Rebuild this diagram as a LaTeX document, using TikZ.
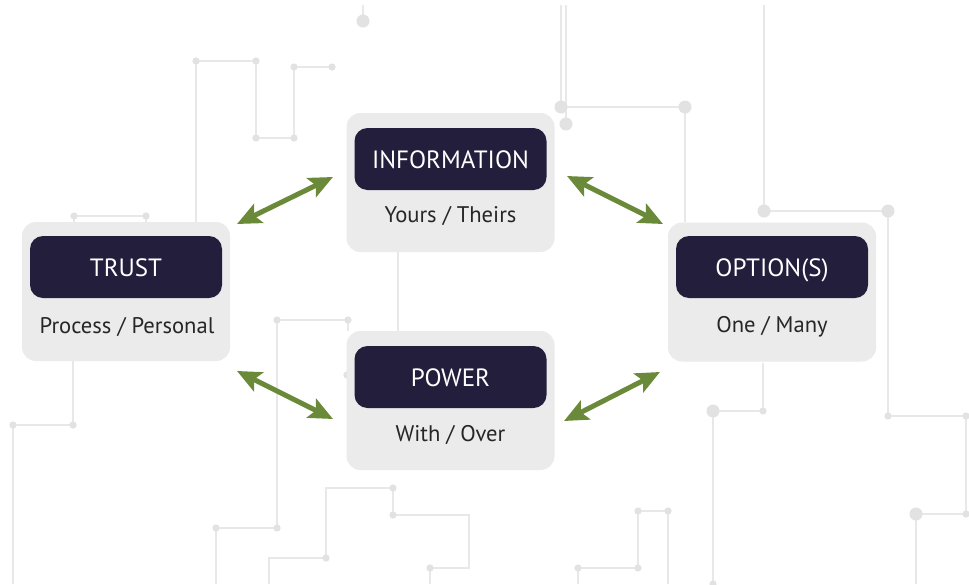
\documentclass[tikz,border=0pt]{standalone}
\usepackage{fontspec}
\setmainfont{PT Sans}
\usetikzlibrary{arrows.meta}
\definecolor{panel}{HTML}{EBEBEC}
\definecolor{labelfill}{HTML}{231E3B}
\definecolor{trace}{HTML}{E8E8E8}
\definecolor{pad}{HTML}{E2E2E2}
\definecolor{linkgreen}{HTML}{6A8A3A}
\definecolor{caption}{HTML}{262626}

\begin{document}
\begin{tikzpicture}[x=1pt,y=-1pt,
  panelbox/.style={fill=panel, rounded corners=14pt, minimum width=208pt,
    minimum height=139pt, inner sep=0pt, outer sep=0pt},
  titlebox/.style={fill=labelfill, rounded corners=13pt, minimum width=192pt,
    minimum height=62pt, inner sep=0pt, text=white, text height=18pt, text depth=0pt,
    font=\fontsize{25}{30}\selectfont},
  subtitle/.style={text=caption, font=\fontsize{22.6}{27}\selectfont, inner sep=0pt, anchor=base},
  wire/.style={draw=trace, line width=1.3pt},
  via/.style={fill=pad},
  twoway/.style={draw=linkgreen, line width=5pt,
    {Stealth[length=24pt,width=21pt,inset=5pt]}-{Stealth[length=24pt,width=21pt,inset=5pt]}}
]
\useasboundingbox[fill=white] (0,0) rectangle (969,584);

% circuit traces in the background
\draw[wire] (363,5) -- (363,21);
\draw[wire] (196,222) -- (196,61) -- (256,61) -- (256,138) -- (294,138) -- (294,67) -- (332,67);
\draw[wire] (74,222) -- (74,216) -- (146,216) -- (146,222);
\draw[wire] (398,252) -- (398,331);
\draw[wire] (561,5) -- (561,107) -- (685,107) -- (685,222);
\draw[wire] (566,5) -- (566,124);
\draw[wire] (764,5) -- (764,211) -- (888,211) -- (888,416) -- (966,416) -- (966,514) -- (916,514) -- (916,584);
\draw[wire] (73,361) -- (73,425) -- (13,425) -- (13,584);
\draw[wire] (348,331) -- (348,320) -- (277,320) -- (277,528) -- (216,528) -- (216,584);
\draw[wire] (393,488) -- (326,488) -- (326,558) -- (269,558) -- (269,584);
\draw[wire] (393,488) -- (393,515) -- (469,515) -- (469,568) -- (430,568) -- (430,584);
\draw[wire] (763,363) -- (763,411) -- (713,411) -- (713,584);
\draw[wire] (668,584) -- (668,511) -- (638,511) -- (638,568) -- (578,568) -- (578,584);

% large pads
\foreach \p in {(363,21),(561,107),(566,124),(685,107),(764,211),(888,211),(916,514),(713,411)}
  \fill[via] \p circle (6.5pt);
% small pads
\foreach \p in {(196,61),(256,61),(256,138),(294,138),(294,67),(332,67),(74,216),(146,216),
  (888,416),(966,416),(966,514),(73,425),(13,425),(348,320),(277,320),(277,528),(216,528),
  (347,375),(393,488),(326,558),(393,515),(430,568),(763,411),(638,511),(668,511),(638,568),
  (578,568),(713,584)}
  \fill[via] \p circle (3.6pt);

% panels
\node[panelbox] (trust) at (126,291.5) {};
\node[panelbox] (info)  at (450.5,182.5) {};
\node[panelbox] (opt)   at (772,292) {};
\node[panelbox] (power) at (450.5,400.5) {};

% title bars
\node[titlebox] (trustT) at (126,267) {TRUST};
\node[titlebox] (infoT) at (450.5,159) {INFORMATION};
\node[titlebox] (optT) at (772,267) {OPTION(S)};
\node[titlebox] (powerT) at (450.5,377) {POWER};

% captions
\node[subtitle] (trustS) at (127,333) {Process / Personal};
\node[subtitle] (infoS)  at (450.5,222) {Yours / Theirs};
\node[subtitle] (optS)   at (772,332) {One / Many};
\node[subtitle] (powerS) at (450.5,441) {With / Over};

% arrow ends
\coordinate (ti) at (237,224);
\coordinate (it) at (333,177);
\coordinate (io) at (567,176);
\coordinate (oi) at (663,224);
\coordinate (tp) at (237,371);
\coordinate (pt) at (333,419);
\coordinate (po) at (564,421);
\coordinate (op) at (660,372);

\draw[twoway] (ti) -- (it);
\draw[twoway] (io) -- (oi);
\draw[twoway] (tp) -- (pt);
\draw[twoway] (po) -- (op);
\end{tikzpicture}
\end{document}
